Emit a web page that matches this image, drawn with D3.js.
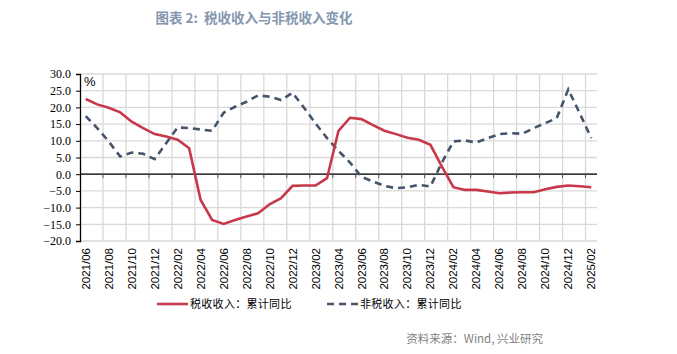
<!DOCTYPE html>
<html>
<head>
<meta charset="utf-8">
<script src="https://cdn.jsdelivr.net/npm/d3@7"></script>
<style>
  body { margin: 0; background: #fff; }
</style>
</head>
<body>
<div id="chart"></div>
<script>
const months = [
  "2021/06","2021/07","2021/08","2021/09","2021/10","2021/11","2021/12",
  "2022/01","2022/02","2022/03","2022/04","2022/05","2022/06","2022/07","2022/08","2022/09","2022/10","2022/11","2022/12",
  "2023/01","2023/02","2023/03","2023/04","2023/05","2023/06","2023/07","2023/08","2023/09","2023/10","2023/11","2023/12",
  "2024/01","2024/02","2024/03","2024/04","2024/05","2024/06","2024/07","2024/08","2024/09","2024/10","2024/11","2024/12",
  "2025/01","2025/02"
];
// 税收收入：累计同比
const taxGrowth = [22.5,20.9,19.9,18.5,15.7,13.8,12.0,11.3,10.3,7.8,-7.7,-13.7,-14.9,-13.7,-12.7,-11.7,-9.0,-7.2,-3.5,-3.4,-3.4,-1.2,13.0,16.9,16.5,14.7,13.0,12.0,10.9,10.3,8.8,2.3,-3.9,-4.7,-4.7,-5.2,-5.7,-5.5,-5.4,-5.4,-4.5,-3.8,-3.4,-3.6,-3.9];
// 非税收入：累计同比
const nonTaxGrowth = [17.4,13.8,9.8,5.3,6.5,6.1,4.5,9.3,14.0,13.8,13.4,13.0,18.4,20.2,21.7,23.6,23.2,22.2,24.4,19.9,15.2,10.8,7.0,3.5,-0.8,-2.2,-3.5,-4.2,-3.9,-3.2,-3.7,3.5,9.8,10.1,9.5,10.8,12.0,12.3,12.1,13.8,15.3,16.8,25.4,18.2,10.8];
const yTicks = [30,25,20,15,10,5,0,-5,-10,-15,-20];
const seriesNames = ["税收收入：累计同比", "非税收入：累计同比"];

const W = 677, H = 354;
const margin = { top: 74, right: 80, bottom: 113, left: 80 };
const width = W - margin.left - margin.right;
const height = H - margin.top - margin.bottom;

const svg = d3.select("#chart").append("svg")
  .attr("width", W)
  .attr("height", H);

svg.append("text")
  .attr("x", 254)
  .attr("y", 23)
  .attr("text-anchor", "middle")
  .style("font-family", "'Noto Sans CJK SC', sans-serif")
  .style("font-weight", "bold")
  .style("font-size", "13.5px")
  .style("fill", "#8497b0")
  .text("图表 2:\u00a0\u00a0税收收入与非税收入变化");

const g = svg.append("g")
  .attr("transform", "translate(" + margin.left + "," + margin.top + ")");

const x = d3.scaleBand().domain(months).range([0, width]).padding(0);
const y = d3.scaleLinear().domain([-20, 30]).range([height, 0]);

// horizontal gridlines
g.append("g")
  .selectAll("line")
  .data(yTicks)
  .enter()
  .append("line")
  .attr("x1", 0)
  .attr("x2", width)
  .attr("y1", d => y(d))
  .attr("y2", d => y(d))
  .style("stroke", "#d9d9d9")
  .style("stroke-width", 1.3);

// vertical gridlines every 2 months (between categories)
const labelMonths = months.filter((d, i) => i % 2 === 0);
g.append("g")
  .selectAll("line")
  .data(labelMonths.slice(1))
  .enter()
  .append("line")
  .attr("x1", d => x(d))
  .attr("x2", d => x(d))
  .attr("y1", 0)
  .attr("y2", height)
  .style("stroke", "#d9d9d9")
  .style("stroke-width", 1.3);

// y axis
const yAxis = g.append("g")
  .call(d3.axisLeft(y).tickValues(yTicks).tickFormat(d3.format(".1f")).tickSizeOuter(0).tickSize(4));
yAxis.select(".domain").style("stroke", "#000").style("stroke-width", 1.3);
yAxis.selectAll(".tick line").style("stroke", "#000");
yAxis.selectAll("text")
  .attr("x", -9)
  .style("font-family", "'Liberation Serif', serif")
  .style("font-size", "12px")
  .style("fill", "#000");

// zero line with tick marks
g.append("line")
  .attr("x1", 0).attr("x2", width)
  .attr("y1", y(0)).attr("y2", y(0))
  .style("stroke", "#000")
  .style("stroke-width", 1.3);
g.append("g")
  .selectAll("line")
  .data(labelMonths.slice(1))
  .enter()
  .append("line")
  .attr("x1", d => x(d)).attr("x2", d => x(d))
  .attr("y1", y(0)).attr("y2", y(0) + 4)
  .style("stroke", "#555");

// x labels
g.append("g")
  .selectAll("text")
  .data(labelMonths)
  .enter()
  .append("text")
  .attr("transform", d => "translate(" + (x(d) + x.bandwidth() / 2) + "," + (height + 7) + ") rotate(-90)")
  .attr("text-anchor", "end")
  .attr("dy", "0.35em")
  .style("font-family", "'Liberation Sans', sans-serif")
  .style("font-size", "11.5px")
  .style("fill", "#000")
  .text(d => d);

g.append("text")
  .attr("x", 4)
  .attr("y", 12)
  .style("font-family", "'Liberation Sans', sans-serif")
  .style("font-size", "13px")
  .text("%");

const line = d3.line()
  .x((d, i) => x(months[i]) + x.bandwidth() / 2)
  .y(d => y(d));

g.append("path")
  .datum(nonTaxGrowth)
  .attr("d", line)
  .style("fill", "none")
  .style("stroke", "#44546a")
  .style("stroke-width", 2.6)
  .style("stroke-dasharray", "7,5");

g.append("path")
  .datum(taxGrowth)
  .attr("d", line)
  .style("fill", "none")
  .style("stroke", "#c8374a")
  .style("stroke-width", 2.6);

// legend
const legend = svg.append("g").attr("transform", "translate(157,304)");
const legendItems = [
  { name: seriesNames[0], color: "#c8374a", dash: null, dx: 0 },
  { name: seriesNames[1], color: "#44546a", dash: "7,5", dx: 170 }
];
legendItems.forEach(function(d) {
  legend.append("line")
    .attr("x1", d.dx).attr("x2", d.dx + 31)
    .attr("y1", 0).attr("y2", 0)
    .style("stroke", d.color)
    .style("stroke-width", 2.6)
    .style("stroke-dasharray", d.dash);
  legend.append("text")
    .attr("x", d.dx + 33)
    .attr("y", 0)
    .attr("dy", "0.35em")
    .style("font-family", "'Noto Sans CJK SC', sans-serif")
    .style("font-size", "11px")
    .style("letter-spacing", "0.3px")
    .style("fill", "#000")
    .text(d.name);
});

svg.append("text")
  .attr("x", 543)
  .attr("y", 343)
  .attr("text-anchor", "end")
  .style("font-family", "'Noto Sans CJK SC', sans-serif")
  .style("font-size", "11.5px")
  .style("fill", "#7f7f7f")
  .text("资料来源：Wind, 兴业研究");
</script>
</body>
</html>
